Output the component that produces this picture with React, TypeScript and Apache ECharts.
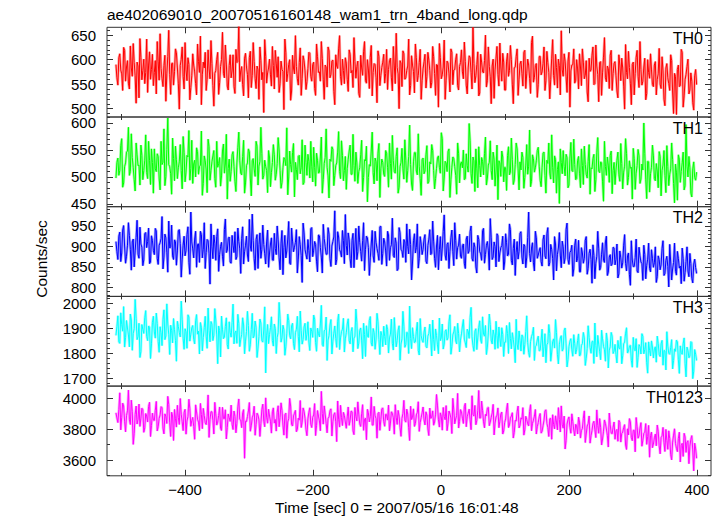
import React, { useEffect, useRef } from 'react';
import * as echarts from 'echarts';

// ---- time bins: A values at T_START + 3k, B values half a bin later ----
const T_START = -508;
const T_STEP = 3;

// ---- axes ----
const X_MIN = -522;
const X_MAX = 422;
const X_MAJOR = [-400, -200, 0, 200, 400];
const X_MINOR = [-500, -300, -100, 100, 300];

const PANEL_NAMES = ['TH0', 'TH1', 'TH2', 'TH3', 'TH0123'];
const PANEL_COLORS = ['#ff0000', '#00ff00', '#0000ff', '#00ffff', '#ff00ff'];
const Y_MIN = [483, 445, 778, 1668, 3498];
const Y_MAX = [666, 611, 997, 2029, 4078];
const Y_MAJOR = [
  [500, 550, 600, 650],
  [450, 500, 550, 600],
  [800, 850, 900, 950],
  [1700, 1800, 1900, 2000],
  [3600, 3800, 4000],
];
const Y_MINOR_STEP = [10, 10, 10, 20, 100];

const TITLE = 'ae402069010_20070516160148_wam1_trn_4band_long.qdp';
const X_TITLE = 'Time [sec] 0 = 2007/05/16 16:01:48';
const Y_TITLE = 'Counts/sec';

// ---- series values (counts/sec) ----
const TH0_A = [
  590, 548, 612, 571, 625, 556, 598, 540, 583, 633, 567, 595, 522, 604, 578, 551, 642, 589, 560, 611,
  574, 530, 597, 653, 562, 588, 515, 606, 570, 592, 548, 622, 583, 499, 601, 566, 635, 557, 590, 543,
  612, 575, 528, 596, 648, 569, 583, 537, 620, 561, 592, 505, 578, 615, 553, 600, 572, 630, 546, 588,
  563, 610, 531, 594, 668, 577, 549, 603, 585, 522, 617, 568, 596, 541, 580, 626, 559, 492, 607, 573,
  601, 546, 588, 619, 564, 533, 597, 576, 642, 555, 590, 517, 609, 571, 586, 548, 624, 562, 598, 539,
  582, 613, 556, 595, 527, 606, 575, 637, 560, 589, 544, 618, 570, 599, 508, 587, 622, 566, 601, 551,
  593, 535, 611, 578, 645, 562, 597, 523, 583, 616, 557, 600, 541, 629, 574, 590, 512, 606, 568, 595,
  552, 621, 580, 603, 536, 589, 654, 571, 598, 545, 612, 563, 587, 528, 608, 576, 632, 555, 594, 519,
  581, 611, 566, 599, 542, 627, 572, 590, 503, 604, 569, 640, 558, 593, 534, 615, 579, 601, 547, 586,
  620, 561, 596, 530, 608, 574, 666, 553, 590, 526, 611, 575, 598, 544, 626, 565, 587, 521, 603, 570,
  634, 556, 595, 538, 613, 578, 600, 510, 585, 622, 560, 597, 546, 619, 571, 589, 531, 648, 564, 592,
  549, 607, 575, 626, 557, 594, 520, 603, 568, 611, 542, 588, 659, 566, 597, 533, 615, 577, 590, 552,
  600, 540, 585, 622, 561, 598, 514, 576, 609, 549, 630, 570, 594, 527, 605, 563, 587, 541, 619, 572,
  596, 536, 610, 557, 583, 499, 574, 617, 552, 590, 528, 604, 566, 637, 548, 585, 518, 600, 562, 579,
  545, 596, 560, 623, 541, 577, 506, 592, 551, 610, 534, 572, 488, 589, 547, 615, 526, 570, 601, 538, 556, 497, 580,
];
const TH0_B = [
  563, 604, 579, 537, 619, 585, 552, 628, 566, 594, 511, 587, 643, 559, 601, 574, 533, 616, 580, 547,
  598, 637, 558, 582, 545, 609, 571, 660, 529, 593, 576, 614, 552, 588, 626, 540, 579, 604, 518, 567,
  589, 551, 632, 574, 508, 595, 615, 560, 581, 639, 547, 572, 600, 529, 586, 656, 563, 591, 538, 610,
  577, 545, 621, 596, 555, 586, 526, 613, 570, 604, 543, 635, 562, 587, 519, 598, 574, 641, 552, 583,
  569, 627, 540, 593, 606, 551, 580, 498, 614, 572, 600, 536, 583, 649, 561, 594, 527, 608, 577, 555,
  615, 566, 590, 541, 632, 574, 556, 602, 519, 585, 626, 563, 597, 535, 610, 582, 649, 548, 578, 604,
  560, 620, 573, 543, 596, 586, 531, 609, 568, 637, 552, 581, 605, 526, 592, 563, 618, 547, 584, 611,
  572, 539, 598, 563, 627, 551, 584, 500, 593, 618, 560, 578, 642, 547, 589, 532, 604, 568, 621, 557,
  596, 542, 615, 578, 553, 606, 527, 589, 633, 561, 585, 519, 597, 571, 622, 549, 580, 612, 538, 594,
  575, 636, 548, 583, 604, 540, 592, 567, 616, 532, 595, 573, 650, 557, 586, 510, 601, 579, 627, 546,
  585, 613, 538, 597, 566, 629, 550, 583, 606, 527, 591, 572, 615, 541, 601, 562, 635, 554, 588, 523,
  606, 569, 592, 537, 617, 574, 560, 641, 548, 584, 601, 528, 579, 612, 565, 597, 503, 589, 622, 558,
  581, 612, 547, 595, 568, 534, 603, 579, 626, 551, 587, 514, 596, 573, 645, 555, 582, 609, 537, 592,
  567, 522, 589, 603, 546, 631, 561, 584, 508, 595, 572, 619, 543, 580, 556, 603, 531, 574, 612, 549,
  589, 528, 571, 550, 606, 519, 583, 563, 537, 598, 490, 566, 580, 545, 621, 503, 559, 586, 530, 573, 512, 567, 549,
];

const TH1_A = [
  498, 535, 512, 571, 489, 526, 548, 503, 580, 517, 474, 541, 522, 559, 495, 531, 508, 566, 486, 527,
  552, 510, 538, 476, 523, 589, 501, 609, 519, 468, 534, 557, 497, 528, 512, 575, 491, 540, 586, 516,
  488, 531, 554, 505, 522, 466, 539, 513, 570, 494, 528, 549, 481, 518, 536, 502, 561, 524, 459, 533,
  510, 547, 492, 526, 583, 507, 538, 470, 521, 552, 498, 530, 515, 566, 485, 529, 543, 503, 519, 471,
  537, 508, 560, 494, 525, 550, 479, 517, 532, 591, 500, 523, 545, 463, 514, 538, 506, 569, 490, 527,
  542, 498, 520, 555, 483, 531, 509, 574, 495, 536, 518, 461, 529, 551, 503, 526, 584, 497, 540, 512,
  477, 533, 559, 505, 521, 546, 488, 517, 568, 499, 530, 454, 523, 548, 508, 535, 493, 562, 515, 527,
  501, 544, 481, 525, 577, 510, 538, 470, 519, 553, 496, 531, 512, 596, 487, 528, 545, 504, 520, 466,
  535, 511, 558, 492, 524, 549, 478, 516, 539, 507, 571, 498, 526, 547, 462, 518, 534, 503, 563, 489,
  528, 550, 497, 521, 599, 506, 537, 473, 515, 556, 500, 529, 543, 485, 522, 567, 495, 533, 511, 458,
  526, 548, 491, 517, 540, 504, 572, 486, 523, 552, 476, 513, 536, 499, 560, 520, 482, 541, 509, 530,
  555, 494, 518, 546, 470, 525, 507, 578, 489, 532, 514, 451, 527, 549, 502, 536, 485, 564, 510, 523,
  497, 538, 480, 521, 557, 505, 529, 468, 515, 542, 495, 573, 508, 526, 455, 519, 537, 490, 548, 512,
  486, 531, 504, 562, 478, 520, 543, 499, 516, 459, 534, 507, 551, 488, 524, 600, 496, 529, 472, 518,
  539, 493, 511, 547, 465, 522, 503, 558, 484, 515, 532, 452, 509, 541, 490, 526, 476, 597, 500, 517, 463, 528, 494,
];
const TH1_B = [
  527, 503, 558, 481, 519, 546, 592, 510, 536, 495, 563, 521, 485, 540, 512, 578, 497, 531, 552, 470,
  515, 543, 498, 566, 527, 484, 551, 523, 506, 572, 493, 532, 517, 560, 478, 545, 509, 537, 494, 568,
  524, 500, 547, 519, 585, 488, 530, 471, 556, 512, 539, 497, 566, 525, 483, 548, 507, 579, 516, 492,
  541, 519, 473, 555, 530, 504, 568, 489, 526, 547, 465, 534, 501, 557, 520, 592, 496, 531, 512, 549,
  482, 527, 541, 505, 573, 512, 490, 536, 521, 467, 548, 509, 562, 527, 495, 540, 517, 486, 559, 503,
  529, 566, 491, 518, 544, 507, 537, 470, 525, 589, 502, 533, 556, 484, 521, 546, 510, 567, 493, 538,
  516, 548, 505, 579, 492, 526, 510, 541, 473, 532, 557, 499, 520, 583, 487, 529, 544, 462, 533, 505,
  549, 518, 563, 496, 530, 507, 554, 481, 527, 515, 569, 490, 538, 523, 475, 545, 511, 580, 497, 532,
  506, 541, 488, 528, 560, 512, 497, 535, 518, 582, 474, 529, 510, 552, 495, 537, 519, 468, 544, 524,
  517, 495, 543, 509, 568, 488, 530, 552, 480, 521, 536, 504, 574, 498, 527, 512, 546, 483, 559, 530,
  501, 537, 518, 475, 556, 509, 532, 494, 563, 515, 528, 546, 479, 522, 505, 587, 492, 534, 517, 549,
  520, 482, 544, 503, 531, 563, 496, 518, 539, 470, 528, 552, 506, 519, 542, 480, 535, 512, 570, 495,
  531, 507, 552, 486, 523, 498, 560, 517, 534, 473, 546, 511, 528, 491, 566, 503, 522, 540, 469, 527,
  513, 546, 492, 525, 509, 571, 485, 530, 518, 553, 477, 521, 539, 496, 513, 544, 460, 528, 506, 559,
  497, 525, 480, 538, 512, 549, 471, 519, 505, 563, 488, 524, 457, 533, 510, 546, 484, 520, 538, 470, 515, 499, 509,
];

const TH2_A = [
  912, 868, 935, 884, 951, 859, 903, 927, 842, 918, 889, 964, 871, 906, 853, 931, 897, 945, 862, 915,
  880, 938, 856, 909, 973, 874, 921, 837, 896, 952, 868, 912, 889, 941, 825, 903, 877, 929, 861, 984,
  894, 918, 849, 906, 937, 872, 958, 885, 914, 808, 899, 928, 866, 943, 881, 910, 852, 967, 890, 923,
  859, 903, 936, 875, 912, 834, 948, 887, 925, 863, 901, 979, 870, 917, 846, 933, 893, 905, 857, 940,
  884, 921, 866, 895, 950, 872, 908, 831, 927, 889, 961, 856, 913, 898, 941, 869, 904, 812, 933, 880,
  917, 862, 946, 891, 905, 838, 926, 874, 954, 899, 881, 930, 851, 912, 987, 868, 923, 886, 939, 858,
  902, 933, 870, 915, 848, 944, 887, 910, 864, 958, 893, 921, 829, 906, 877, 937, 895, 866, 949, 883,
  911, 852, 928, 897, 969, 873, 908, 845, 934, 889, 917, 861, 900, 942, 818, 914, 884, 955, 870, 906,
  893, 929, 858, 918, 880, 962, 871, 901, 843, 924, 896, 977, 866, 909, 888, 940, 853, 915, 897, 930,
  871, 906, 846, 925, 889, 950, 864, 898, 835, 917, 882, 939, 859, 903, 891, 968, 868, 911, 850, 926,
  884, 902, 843, 931, 877, 955, 866, 895, 829, 912, 888, 936, 857, 901, 874, 984, 862, 909, 840, 921,
  879, 897, 852, 928, 870, 946, 861, 893, 818, 906, 881, 934, 848, 899, 872, 957, 856, 889, 827, 903,
  862, 915, 838, 884, 871, 924, 846, 893, 810, 878, 859, 937, 842, 881, 866, 911, 829, 874, 853, 898,
  855, 906, 833, 872, 860, 929, 840, 884, 805, 867, 851, 918, 836, 877, 858, 903, 821, 869, 846, 892,
  849, 899, 826, 868, 855, 914, 834, 876, 801, 862, 845, 908, 830, 871, 852, 896, 815, 864, 840, 883, 822, 857, 848,
];
const TH2_B = [
  887, 925, 863, 940, 901, 876, 958, 893, 911, 850, 922, 881, 947, 898, 867, 934, 912, 858, 926, 890,
  944, 871, 903, 919, 845, 930, 886, 962, 899, 877, 916, 854, 938, 907, 869, 925, 890, 948, 832, 911,
  872, 937, 905, 861, 929, 893, 846, 917, 882, 955, 870, 908, 924, 839, 900, 876, 941, 885, 919, 862,
  927, 885, 868, 945, 894, 920, 857, 903, 879, 966, 888, 915, 842, 929, 904, 871, 952, 882, 911, 849,
  906, 867, 932, 880, 916, 843, 939, 897, 872, 918, 859, 945, 887, 910, 835, 924, 878, 957, 893, 869,
  890, 943, 875, 912, 864, 928, 897, 835, 919, 881, 946, 870, 901, 923, 855, 936, 892, 874, 914, 978,
  879, 916, 848, 932, 901, 868, 950, 888, 914, 841, 925, 897, 872, 939, 861, 910, 883, 948, 856, 920,
  889, 937, 866, 904, 878, 921, 841, 946, 893, 873, 911, 955, 882, 905, 862, 931, 897, 847, 924, 880,
  918, 864, 902, 941, 883, 913, 849, 927, 892, 865, 936, 879, 905, 846, 921, 887, 958, 869, 903, 876,
  902, 859, 918, 883, 936, 871, 909, 850, 927, 888, 866, 944, 880, 912, 842, 921, 874, 900, 931, 863,
  897, 925, 862, 909, 880, 941, 855, 918, 886, 869, 932, 874, 905, 848, 922, 883, 896, 860, 937, 871,
  889, 863, 916, 877, 931, 852, 905, 871, 924, 840, 896, 879, 913, 858, 941, 868, 885, 903, 845, 918,
  871, 838, 897, 859, 915, 832, 883, 868, 904, 821, 876, 894, 849, 909, 861, 925, 837, 880, 857, 896,
  868, 823, 889, 847, 903, 858, 877, 832, 914, 851, 872, 840, 898, 862, 817, 880, 853, 908, 838, 871,
  860, 812, 877, 843, 895, 829, 866, 851, 905, 818, 861, 839, 888, 847, 809, 870, 836, 899, 826, 858, 811, 869, 834,
];

const TH3_A = [
  1872, 1951, 1840, 1915, 1988, 1863, 1902, 1826, 1934, 1880, 2017, 1855, 1921, 1807, 1896, 1943, 1868, 1910, 1779, 1925,
  1886, 1962, 1848, 1907, 1831, 1975, 1870, 1918, 1795, 1893, 1940, 1852, 1929, 1884, 2010, 1861, 1899, 1820, 1946, 1877,
  1912, 1838, 1956, 1889, 1924, 1810, 1903, 1869, 1982, 1846, 1917, 1873, 1934, 1758, 1891, 1950, 1859, 1908, 1835, 1927,
  1865, 1998, 1882, 1840, 1919, 1856, 1943, 1798, 1887, 1912, 1834, 1961, 1870, 1905, 1821, 1938, 1851, 1894, 1721, 1916,
  1876, 1947, 1829, 1900, 1864, 2005, 1845, 1913, 1792, 1881, 1932, 1858, 1921, 1815, 1896, 1868, 1970, 1837, 1906, 1852,
  1927, 1811, 1889, 1954, 1843, 1901, 1866, 1993, 1828, 1895, 1771, 1872, 1936, 1849, 1910, 1824, 1958, 1862, 1897, 1805,
  1883, 1939, 1838, 1904, 1861, 1978, 1819, 1892, 1853, 1921, 1787, 1870, 1932, 1842, 1900, 1816, 1961, 1855, 1888, 1827,
  1868, 1915, 1801, 1877, 1840, 1944, 1826, 1893, 1772, 1858, 1909, 1835, 1882, 1990, 1819, 1867, 1846, 1925, 1793, 1871,
  1844, 1906, 1822, 1880, 1857, 1934, 1811, 1872, 1798, 1851, 1918, 1837, 1895, 1863, 1955, 1828, 1886, 1849, 1921, 1806,
  1878, 1936, 1842, 1897, 1860, 1985, 1831, 1889, 1815, 1904, 1853, 1947, 1869, 1795, 1882, 1916, 1838, 1874, 1929, 1820,
  1861, 1903, 1787, 1845, 1879, 1924, 1818, 1856, 1762, 1837, 1890, 1809, 1866, 1835, 1951, 1803, 1848, 1879, 1771, 1832,
  1869, 1812, 1897, 1828, 1762, 1843, 1880, 1805, 1858, 1936, 1796, 1834, 1871, 1817, 1902, 1745, 1826, 1859, 1788, 1840,
  1815, 1878, 1794, 1839, 1862, 1780, 1911, 1823, 1847, 1759, 1831, 1872, 1806, 1893, 1828, 1768, 1852, 1813, 1884, 1799,
  1836, 1761, 1821, 1868, 1790, 1845, 1903, 1808, 1832, 1744, 1816, 1859, 1783, 1827, 1879, 1798, 1843, 1720, 1812, 1850,
  1781, 1826, 1869, 1795, 1838, 1752, 1809, 1887, 1800, 1824, 1737, 1818, 1853, 1774, 1830, 1796, 1862, 1705, 1811, 1789, 1843, 1728, 1796,
];
const TH3_B = [
  1908, 1846, 1963, 1889, 1825, 1932, 1874, 1958, 1812, 1899, 1941, 1867, 1783, 1916, 1880, 1972, 1851, 1905, 1838, 1949,
  1861, 1920, 1804, 1883, 1936, 1855, 1999, 1877, 1913, 1842, 1895, 1768, 1908, 1866, 1937, 1816, 1887, 1955, 1849, 1902,
  1856, 1931, 1877, 1797, 1905, 1864, 1949, 1820, 1893, 1928, 1851, 1980, 1874, 1910, 1785, 1897, 1865, 1943, 1817, 1884,
  1924, 1838, 1890, 1957, 1827, 1876, 1914, 1849, 1969, 1808, 1895, 1862, 1930, 1783, 1868, 1922, 1845, 1987, 1873, 1839,
  1903, 1851, 1918, 1799, 1884, 1939, 1862, 1895, 1826, 1958, 1871, 1910, 1840, 1883, 1949, 1806, 1891, 1855, 1921, 1877,
  1845, 1902, 1864, 1937, 1808, 1879, 1918, 1836, 1890, 1946, 1853, 1914, 1797, 1881, 1860, 1929, 1815, 1887, 1941, 1858,
  1918, 1851, 1887, 1806, 1869, 1925, 1841, 1902, 1778, 1876, 1911, 1864, 1948, 1829, 1883, 1857, 1927, 1795, 1873, 1909,
  1834, 1896, 1862, 1938, 1813, 1878, 1852, 1911, 1837, 1969, 1824, 1885, 1799, 1860, 1903, 1843, 1889, 1812, 1940, 1853,
  1885, 1828, 1869, 1917, 1789, 1856, 1898, 1834, 1942, 1862, 1817, 1889, 1853, 1927, 1796, 1874, 1908, 1838, 1880, 1853,
  1910, 1857, 1823, 1889, 1944, 1866, 1808, 1899, 1862, 1931, 1840, 1877, 1912, 1825, 1958, 1853, 1894, 1816, 1871, 1906,
  1827, 1876, 1845, 1912, 1799, 1859, 1883, 1822, 1937, 1815, 1852, 1874, 1796, 1888, 1843, 1784, 1867, 1905, 1828, 1854,
  1810, 1853, 1786, 1879, 1834, 1916, 1768, 1847, 1821, 1883, 1757, 1862, 1809, 1891, 1838, 1775, 1849, 1814, 1875, 1797,
  1851, 1789, 1832, 1884, 1751, 1819, 1863, 1800, 1849, 1922, 1786, 1837, 1774, 1858, 1815, 1882, 1741, 1826, 1869, 1808,
  1795, 1852, 1817, 1758, 1838, 1881, 1801, 1829, 1772, 1864, 1810, 1743, 1835, 1797, 1868, 1815, 1762, 1846, 1789, 1825,
  1818, 1764, 1840, 1787, 1852, 1812, 1733, 1829, 1796, 1855, 1771, 1808, 1846, 1719, 1803, 1838, 1760, 1825, 1782, 1847, 1698, 1815, 1771,
];

const TH0123_A = [
  3905, 3842, 4035, 3876, 3950, 3782, 3918, 3860, 3987, 3701, 3894, 3833, 3962, 3871, 3925, 3808, 3884, 3947, 3752, 3903,
  3856, 3979, 3815, 3892, 3938, 3769, 3880, 4012, 3841, 3909, 3726, 3867, 3954, 3830, 3896, 3790, 3928, 3852, 3993, 3818,
  3876, 3734, 3911, 3845, 3966, 3803, 3887, 3829, 4021, 3862, 3912, 3768, 3898, 3845, 3943, 3791, 3869, 3925, 3810, 3874,
  3955, 3797, 3882, 3837, 3995, 3859, 3906, 3611, 3848, 3917, 3786, 3873, 3948, 3829, 3890, 3752, 3926, 3851, 4002, 3838,
  3884, 3774, 3937, 3862, 3909, 3815, 3970, 3826, 3893, 3741, 3868, 3949, 3820, 3902, 3783, 3871, 3985, 3844, 3915, 3797,
  3866, 3938, 3810, 3891, 3758, 3920, 3853, 4044, 3832, 3897, 3776, 3879, 3931, 3847, 3906, 3719, 3864, 3954, 3823, 3888,
  3805, 3943, 3858, 3912, 3764, 3881, 3976, 3834, 3899, 3792, 3871, 3928, 3847, 4008, 3826, 3886, 3741, 3909, 3862, 3937,
  3818, 3893, 3955, 3839, 3902, 3767, 3877, 3921, 3812, 3869, 3986, 3845, 3897, 3726, 3862, 3931, 3836, 3908, 3785, 3874,
  3943, 3827, 3890, 3758, 3869, 3918, 3846, 4024, 3860, 3905, 3793, 3881, 3952, 3837, 3898, 3771, 3924, 3865, 4031, 3849,
  3912, 3836, 3967, 3880, 3929, 3796, 3895, 3953, 3857, 4050, 3873, 3921, 3808, 3886, 3941, 3845, 3904, 3762, 3878, 3937,
  3851, 3910, 3788, 3866, 3968, 3827, 3885, 3742, 3856, 3912, 3808, 3873, 3939, 3795, 3862, 3821, 3958, 3837, 3884, 3768,
  3842, 3901, 3786, 3858, 3925, 3810, 3867, 3734, 3829, 3886, 3795, 3861, 3950, 3806, 3671, 3832, 3879, 3773, 3848, 3756,
  3822, 3877, 3742, 3804, 3918, 3768, 3835, 3709, 3790, 3851, 3745, 3823, 3868, 3697, 3786, 3837, 3760, 3904, 3775, 3812,
  3734, 3798, 3856, 3716, 3781, 3829, 3668, 3762, 3847, 3725, 3793, 3875, 3741, 3806, 3689, 3772, 3836, 3751, 3618, 3780,
  3703, 3768, 3826, 3692, 3745, 3811, 3655, 3727, 3789, 3634, 3716, 3802, 3675, 3740, 3587, 3708, 3773, 3649, 3725, 3690, 3758, 3530, 3672,
];
const TH0123_B = [
  3872, 3926, 3795, 3968, 3851, 3887, 4052, 3830, 3914, 3773, 3949, 3862, 3817, 3935, 3779, 3901, 3846, 3974, 3823, 3858,
  3921, 3788, 3869, 3945, 3806, 3899, 3836, 3960, 3752, 3885, 3927, 3813, 3874, 3998, 3847, 3906, 3767, 3881, 3932, 3855,
  3818, 3957, 3864, 3790, 3895, 3934, 3841, 3883, 3746, 3912, 3857, 3973, 3826, 3888, 3805, 3941, 3867, 3736, 3898, 3850,
  3832, 3917, 3776, 3944, 3863, 3809, 3926, 3851, 3881, 3972, 3821, 3892, 3760, 3903, 3859, 3834, 3961, 3815, 3877, 3928,
  3851, 3912, 3839, 3787, 3951, 3876, 3920, 3761, 3903, 3846, 3999, 3829, 3885, 3921, 3798, 3858, 3810, 3937, 3870, 3757,
  3909, 3832, 3876, 3965, 3822, 3884, 3789, 3901, 3950, 3837, 3868, 3919, 3755, 3893, 3847, 3982, 3813, 3874, 3908, 3846,
  3879, 3824, 3916, 3789, 3940, 3853, 3897, 3817, 3958, 3864, 3731, 3905, 3880, 3826, 3947, 3869, 3901, 3792, 3930, 3848,
  3896, 3858, 3789, 3912, 3873, 3958, 3830, 3884, 3753, 3901, 3857, 3929, 3809, 3948, 3876, 3817, 3892, 3977, 3842, 3905,
  3859, 3912, 3801, 3936, 3878, 3825, 3896, 3955, 3813, 3883, 3940, 3861, 3790, 3917, 3872, 3999, 3834, 3889, 3807, 3926,
  3870, 3945, 3815, 3903, 3861, 4016, 3884, 3828, 3919, 3871, 3981, 3847, 3895, 3935, 3822, 3876, 3960, 3839, 3890, 3809,
  3897, 3768, 3842, 3924, 3810, 3871, 3906, 3779, 3852, 3949, 3823, 3864, 3761, 3883, 3834, 3913, 3789, 3858, 3927, 3815,
  3880, 3774, 3821, 3917, 3838, 3752, 3869, 3893, 3802, 3845, 3939, 3781, 3827, 3884, 3726, 3862, 3810, 3899, 3794, 3831,
  3768, 3845, 3791, 3870, 3713, 3820, 3885, 3757, 3836, 3795, 3924, 3773, 3812, 3736, 3859, 3801, 3684, 3827, 3769, 3846,
  3789, 3721, 3843, 3772, 3810, 3697, 3802, 3868, 3746, 3791, 3653, 3815, 3757, 3842, 3728, 3779, 3701, 3824, 3759, 3680,
  3744, 3692, 3786, 3640, 3755, 3712, 3798, 3669, 3738, 3601, 3761, 3707, 3654, 3780, 3695, 3623, 3749, 3716, 3576, 3734, 3665, 3709, 3611,
];

const SERIES_A = [TH0_A, TH1_A, TH2_A, TH3_A, TH0123_A];
const SERIES_B = [TH0_B, TH1_B, TH2_B, TH3_B, TH0123_B];

// ---- layout ----
const W = 724;
const H = 516;
const PLOT_LEFT = 107;
const PLOT_RIGHT = 711;
const PANEL_TOP = 27.3;
const PANEL_H = 89.7;
const FONT = '"Liberation Sans", Arial, Helvetica, sans-serif';
const AXIS_COLOR = '#333';

function minorTicks(min: number, max: number, step: number): number[] {
  const out: number[] = [];
  for (let v = Math.ceil(min / step) * step; v <= max; v += step) out.push(v);
  return out;
}

function fmtX(v: number): string {
  return v < 0 ? '\u2212' + Math.abs(v) : String(v);
}

function fmtY(v: number): string {
  return String(v);
}

function pairs(a: number[], b: number[]): number[][] {
  const out: number[][] = [];
  for (let k = 0; k < a.length; k++) {
    const t = T_START + k * T_STEP;
    out.push([t, a[k]]);
    if (k < b.length) out.push([t + T_STEP / 2, b[k]]);
  }
  return out;
}

function buildOption() {
  const grid: any[] = [];
  const xAxis: any[] = [];
  const yAxis: any[] = [];
  const series: any[] = [];
  const graphic: any[] = [];

  for (let i = 0; i < 5; i++) {
    const top = PANEL_TOP + i * PANEL_H;
    grid.push({
      left: PLOT_LEFT,
      width: PLOT_RIGHT - PLOT_LEFT,
      top,
      height: PANEL_H,
      show: true,
      borderColor: AXIS_COLOR,
      borderWidth: 1,
      backgroundColor: 'transparent',
      containLabel: false,
      outerBoundsMode: 'none',
    });

    const xBase = {
      gridIndex: i,
      type: 'value',
      min: X_MIN,
      max: X_MAX,
      axisLine: { show: false, onZero: false },
      splitLine: { show: false },
      silent: true,
    };
    const mkX = (position: string, ticks: number[], len: number, withLabel: boolean) => ({
      ...xBase,
      position,
      axisTick: {
        show: true,
        inside: true,
        length: len,
        customValues: ticks,
        lineStyle: { color: AXIS_COLOR, width: 1 },
      },
      axisLabel: withLabel
        ? {
            show: true,
            customValues: X_MAJOR,
            formatter: fmtX,
            margin: 6,
            fontSize: 15,
            lineHeight: 15,
            fontFamily: FONT,
            color: '#000',
          }
        : { show: false },
    });
    xAxis.push(mkX('bottom', X_MAJOR, 6, i === 4));
    xAxis.push(mkX('bottom', X_MINOR, 3, false));
    xAxis.push(mkX('top', X_MAJOR, 6, false));
    xAxis.push(mkX('top', X_MINOR, 3, false));

    const yBase = {
      gridIndex: i,
      type: 'value',
      min: Y_MIN[i],
      max: Y_MAX[i],
      axisLine: { show: false, onZero: false },
      splitLine: { show: false },
      silent: true,
    };
    const yMinor = minorTicks(Y_MIN[i], Y_MAX[i], Y_MINOR_STEP[i]);
    const mkY = (position: string, ticks: number[], len: number, withLabel: boolean) => ({
      ...yBase,
      position,
      axisTick: {
        show: true,
        inside: true,
        length: len,
        customValues: ticks,
        lineStyle: { color: AXIS_COLOR, width: 1 },
      },
      axisLabel: withLabel
        ? {
            show: true,
            customValues: Y_MAJOR[i],
            formatter: fmtY,
            margin: 11,
            fontSize: 15,
            lineHeight: 12,
            fontFamily: FONT,
            color: '#000',
          }
        : { show: false },
    });
    yAxis.push(mkY('left', Y_MAJOR[i], 6, true));
    yAxis.push(mkY('left', yMinor, 3, false));
    yAxis.push(mkY('right', Y_MAJOR[i], 6, false));
    yAxis.push(mkY('right', yMinor, 3, false));

    const data = pairs(SERIES_A[i], SERIES_B[i]);
    // light underlay (the pale error-bar look of the original), then the solid trace
    series.push({
      type: 'line',
      xAxisIndex: i * 4,
      yAxisIndex: i * 4,
      data,
      showSymbol: false,
      symbol: 'none',
      silent: true,
      lineStyle: { color: PANEL_COLORS[i], width: 2.6, opacity: 0.35 },
      emphasis: { disabled: true },
      z: 1,
    });
    series.push({
      type: 'line',
      xAxisIndex: i * 4,
      yAxisIndex: i * 4,
      data,
      showSymbol: false,
      symbol: 'none',
      silent: true,
      lineStyle: { color: PANEL_COLORS[i], width: 1 },
      itemStyle: { color: PANEL_COLORS[i] },
      emphasis: { disabled: true },
      z: 2,
    });

    graphic.push({
      type: 'text',
      x: 703,
      y: top + 3,
      z: 100,
      silent: true,
      style: {
        text: PANEL_NAMES[i],
        align: 'right',
        verticalAlign: 'top',
        fontSize: 16,
        fontFamily: FONT,
        fill: '#000',
      },
    });
  }

  graphic.push({
    type: 'text',
    x: PLOT_LEFT,
    y: 6,
    z: 100,
    silent: true,
    style: {
      text: TITLE,
      align: 'left',
      verticalAlign: 'top',
      fontSize: 15.5,
      fontFamily: FONT,
      fill: '#000',
    },
  });
  graphic.push({
    type: 'text',
    x: 275,
    y: 507,
    z: 100,
    silent: true,
    style: {
      text: X_TITLE,
      align: 'left',
      verticalAlign: 'middle',
      fontSize: 15.5,
      fontFamily: FONT,
      fill: '#000',
    },
  });
  graphic.push({
    type: 'text',
    x: 41,
    y: 259,
    rotation: Math.PI / 2,
    z: 100,
    silent: true,
    style: {
      text: Y_TITLE,
      align: 'center',
      verticalAlign: 'middle',
      fontSize: 15.5,
      fontFamily: FONT,
      fill: '#000',
    },
  });

  return {
    animation: false,
    backgroundColor: '#ffffff',
    grid,
    xAxis,
    yAxis,
    series,
    graphic,
    tooltip: { show: false },
  };
}

export default function App() {
  const ref = useRef<HTMLDivElement>(null);
  useEffect(() => {
    document.body.style.margin = '0';
    if (!ref.current) return;
    const chart = echarts.init(ref.current, null, { renderer: 'svg', width: W, height: H });
    chart.setOption(buildOption() as any);
    return () => {
      chart.dispose();
    };
  }, []);
  return <div ref={ref} style={{ width: W, height: H }} />;
}
